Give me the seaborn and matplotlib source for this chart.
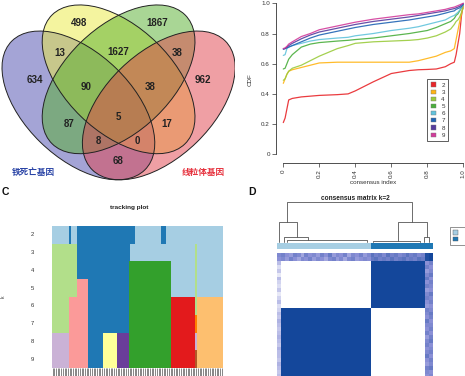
import matplotlib
matplotlib.use("Agg")
import matplotlib.pyplot as plt
import numpy as np
import pandas as pd
import seaborn as sns
from matplotlib.colors import ListedColormap, LinearSegmentedColormap
from matplotlib.patches import Ellipse, Patch

sns.set_theme(style="white")
plt.rcParams["font.family"] = ["Liberation Sans", "Noto Sans CJK SC", "DejaVu Sans"]

# ---------------- data ----------------
# A: four-set venn (1 = 铁死亡基因, 4 = 线粒体基因)
venn_names = ["铁死亡基因", "set2", "set3", "线粒体基因"]
venn_colors = ["#4b4baf", "#ebeb41", "#55af2d", "#e1414b"]
venn_regions = ["1", "2", "3", "4", "12", "23", "34", "123", "234",
                "1234", "13", "24", "134", "124", "14"]
venn_counts = [634, 498, 1867, 962, 13, 1627, 38, 90, 38, 5, 87, 17, 8, 0, 68]

# B: CDF curves for k = 2..9
cdf_k = [2, 3, 4, 5, 6, 7, 8, 9]
cdf_colors = ["#e8262a", "#ffb414", "#9acb3c", "#4aae3c", "#62c3dc",
              "#2064b4", "#553c9e", "#d23c9b"]
cdf_x = [0, 0.01, 0.02, 0.03, 0.05, 0.1, 0.15, 0.2, 0.3, 0.36, 0.4, 0.5, 0.6,
         0.7, 0.75, 0.8, 0.85, 0.9, 0.93, 0.95, 0.96, 0.97, 0.98, 0.99, 1.0]
cdf_k2 = [.21, .24, .30, .36, .37, .38, .385, .39, .395, .40, .42, .48, .535,
          .555, .56, .562, .565, .58, .60, .61, .66, .73, .80, .92, .99]
cdf_k3 = [.47, .50, .53, .55, .56, .575, .59, .605, .61, .61, .61, .61, .61,
          .61, .62, .635, .65, .675, .685, .70, .76, .82, .88, .93, .99]
cdf_k4 = [.49, .50, .53, .55, .57, .59, .62, .65, .70, .72, .735, .745, .75,
          .755, .76, .77, .785, .81, .83, .86, .88, .89, .91, .94, .97]
cdf_k5 = [.565, .57, .60, .63, .66, .71, .73, .74, .75, .755, .76, .77, .785,
          .80, .81, .82, .84, .865, .88, .90, .92, .93, .95, .97, .99]
cdf_k6 = [.655, .66, .70, .71, .72, .735, .75, .76, .77, .775, .785, .80, .82,
          .835, .845, .86, .875, .89, .91, .92, .93, .94, .955, .97, .99]
cdf_k7 = [.695, .70, .705, .71, .72, .745, .77, .79, .815, .83, .84, .86, .875,
          .89, .90, .91, .92, .935, .945, .95, .96, .965, .97, .98, .995]
cdf_k8 = [.70, .70, .71, .72, .735, .765, .79, .81, .835, .85, .86, .88, .895,
          .91, .92, .93, .94, .95, .96, .965, .97, .975, .98, .99, 1.0]
cdf_k9 = [.70, .705, .715, .73, .745, .78, .80, .825, .85, .865, .875, .895, .91,
          .925, .93, .94, .95, .96, .97, .975, .98, .985, .99, .995, 1.0]
cdf_values = [cdf_k2, cdf_k3, cdf_k4, cdf_k5, cdf_k6, cdf_k7, cdf_k8, cdf_k9]

# C: tracking plot, runs of (cluster colour index, n samples) per k
track_k = ["2", "3", "4", "5", "6", "7", "8", "9"]
track_k2 = [(0, 10), (1, 1), (0, 4), (1, 34), (0, 15), (1, 3), (0, 33)]
track_k3 = [(2, 15), (1, 31), (0, 38), (2, 1), (0, 15)]
track_k4 = [(2, 15), (1, 30), (3, 25), (0, 14), (2, 1), (0, 15)]
track_k5 = [(2, 15), (4, 6), (1, 24), (3, 25), (0, 14), (2, 1), (0, 15)]
track_k6 = [(2, 10), (4, 11), (1, 24), (3, 25), (5, 14), (2, 1), (6, 15)]
track_k7 = [(2, 10), (4, 11), (1, 24), (3, 25), (5, 14), (7, 1), (6, 15)]
track_k8 = [(8, 10), (4, 11), (1, 9), (10, 8), (9, 7), (3, 25), (5, 14), (8, 1), (6, 15)]
track_k9 = [(8, 10), (4, 11), (1, 9), (10, 8), (9, 7), (3, 25), (5, 14), (11, 1), (6, 15)]
track_runs = [track_k2, track_k3, track_k4, track_k5, track_k6, track_k7,
              track_k8, track_k9]

# D: consensus matrix k=2
cons_col_groups = [1, 23, 14, 2]       # edge col, cluster 1, cluster 2, edge cols
cons_row_groups = [2, 12, 26]          # edge rows, cluster-2 rows, cluster-1 rows
cons_col_cluster = [1, 1, 2, 2]
cons_block_c2rows = [0.0, 1.0]         # values vs cluster1 / cluster2 cols
cons_block_c1rows = [1.0, 0.0]
cons_top_a = [.55, .6, .5, .45, .6, .55, .4, .6, .5, .55, .45, .6, .5, .65, .45,
              .55, .5, .6, .4, .55, .5, .6, .45, .55, .7, .6, .65, .55, .7, .6,
              .65, .55, .6, .7, .6, .65, .55, .6, .95, 1.0]
cons_top_b = [.5, .55, .45, .6, .5, .4, .55, .5, .6, .45, .55, .5, .4, .55, .6,
              .45, .55, .4, .55, .6, .45, .5, .55, .5, .65, .7, .6, .65, .6, .7,
              .6, .65, .7, .6, .65, .6, .7, .65, .95, 1.0]
cons_left = [.3, .15, .25, .1, .3, .2, .15, .25, .1, .2, .3, .15, .2, .3, .25,
             .35, .3, .25, .3, .35, .3, .25, .35, .3, .3, .25, .35, .3, .25, .3,
             .35, .3, .25, .3, .35, .3, .3, .25]
cons_right_a = [.5, .6, .45, .55, .65, .5, .6, .45, .55, .6, .5, .45, .6, .55,
                .5, .65, .55, .5, .6, .45, .55, .6, .5, .55, .65, .5, .45, .6,
                .55, .5, .6, .55, .45, .6, .5, .55, .6, .5]
cons_right_b = [.6, .5, .55, .65, .5, .6, .55, .5, .65, .55, .6, .5, .55, .65,
                .6, .5, .55, .6, .5, .6, .65, .5, .55, .6, .5, .6, .55, .65,
                .5, .55, .6, .5, .65, .55, .6, .5, .55, .6]
# dendrogram merges: left x, right x, height, left child h, right child h
dend_left = [2.6, 0.5, 1.7, 2.5, 31.0, 24.7, 37.8]
dend_right = [34.8, 5.0, 8.0, 23.0, 38.5, 36.7, 39.0]
dend_height = [1.0, 0.5, 0.12, 0.04, 0.5, 0.03, 0.13]
dend_lchild = [0.5, 0.0, 0.0, 0.0, 0.03, 0.0, 0.0]
dend_rchild = [0.5, 0.12, 0.04, 0.0, 0.13, 0.0, 0.0]

# ---------------- figure ----------------
W, H = 465, 376
fig = plt.figure(figsize=(W / 100, H / 100), dpi=100)


def box(x0, y0, x1, y1):
    # pixel box (top-left origin) -> figure fraction rect
    return [x0 / W, 1 - y1 / H, (x1 - x0) / W, (y1 - y0) / H]


# ---- A: venn ----
axa = fig.add_axes(box(0, 0, 235, 185))
ell_center = [(0.35, 0.47), (0.5, 0.57), (0.5, 0.57), (0.65, 0.47)]
ell_angle = [-45, -45, 45, 45]
for c, ang, col in zip(ell_center, ell_angle, venn_colors):
    axa.add_patch(Ellipse(c, 0.70, 0.40, angle=ang, facecolor=col, alpha=0.5,
                          edgecolor="none"))
for c, ang in zip(ell_center, ell_angle):
    axa.add_patch(Ellipse(c, 0.70, 0.40, angle=ang, facecolor="none",
                          edgecolor="#222222", lw=0.7))
label_pos = {"1": (0.188, 0.568), "2": (0.352, 0.786), "3": (0.643, 0.786),
             "4": (0.815, 0.568), "12": (0.281, 0.671), "23": (0.498, 0.675),
             "34": (0.718, 0.671), "123": (0.378, 0.541), "234": (0.617, 0.541),
             "1234": (0.498, 0.426), "13": (0.315, 0.399), "24": (0.681, 0.399),
             "134": (0.423, 0.334), "124": (0.569, 0.334), "14": (0.498, 0.257)}
for reg, n in zip(venn_regions, venn_counts):
    x, y = label_pos[reg]
    axa.text(x, y, str(n), ha="center", va="center", fontsize=7,
             fontweight="bold", color="#222222")
axa.set_xlim(0.0575, 0.9344)
axa.set_ylim(0.165, 0.874)
axa.axis("off")
fig.text(12 / W, 1 - 173 / H, venn_names[0], color="#2a44a6", fontsize=6.2,
         fontweight="bold", va="center", family=["Noto Sans CJK SC"])
fig.text(182 / W, 1 - 173 / H, venn_names[3], color="#e6303c", fontsize=6.2,
         fontweight="bold", va="center", family=["Noto Sans CJK SC"])

# ---- B: CDF ----
axb = fig.add_axes(box(276.1, -2.7, 470.5, 160.3))
cdf_df = pd.DataFrame({
    "consensus index": np.tile(cdf_x, len(cdf_k)),
    "CDF": np.concatenate(cdf_values),
    "k": np.repeat([str(k) for k in cdf_k], len(cdf_x)),
})
sns.lineplot(data=cdf_df, x="consensus index", y="CDF", hue="k",
             palette=cdf_colors, legend=False, estimator=None, sort=False,
             lw=0.9, alpha=0.9, ax=axb)
axb.set_xlim(-0.04, 1.04)
axb.set_ylim(-0.04, 1.04)
sns.despine(ax=axb)
for s in ["left", "bottom"]:
    axb.spines[s].set_bounds(0, 1)
    axb.spines[s].set_linewidth(0.6)
    axb.spines[s].set_color("#333333")
axb.spines["bottom"].set_position(("outward", 2))
ticks = [0, 0.2, 0.4, 0.6, 0.8, 1.0]
tick_lbl = ["0", "0.2", "0.4", "0.6", "0.8", "1.0"]
axb.set_xticks(ticks)
axb.set_xticklabels(tick_lbl, rotation=90)
axb.set_yticks(ticks)
axb.set_yticklabels(tick_lbl)
axb.tick_params(axis="both", length=3, width=0.5, color="#333333",
                labelsize=4.5, labelcolor="#333333", pad=1.5,
                left=True, bottom=True)
axb.set_xlabel("")
axb.set_ylabel("")
fig.text(250 / W, 1 - 80 / H, "CDF", rotation=90, fontsize=4.5,
         color="#333333", ha="center", va="center")
fig.text(373 / W, 1 - 183 / H, "consensus index", fontsize=4.5,
         color="#333333", ha="center", va="center")
handles = [Patch(facecolor=c, edgecolor="#777777", lw=0.3) for c in cdf_colors]
leg_b = fig.legend(handles, [str(k) for k in cdf_k], loc="upper left",
                   bbox_to_anchor=(427.3 / W, 1 - 79 / H), fontsize=4.5,
                   handlelength=0.9, handleheight=0.65, labelspacing=0.3,
                   handletextpad=0.8, borderpad=0.55, borderaxespad=0,
                   frameon=True, fancybox=False, edgecolor="#444444",
                   framealpha=1, labelcolor="#333333")
leg_b.get_frame().set_linewidth(0.6)

# ---- C: tracking plot ----
axc = fig.add_axes(box(51.7, 225.7, 222.7, 368.3))
track = np.array([np.repeat([c for c, n in row], [n for c, n in row])
                  for row in track_runs])
paired = sns.color_palette("Paired", 12)
sns.heatmap(track, cmap=ListedColormap(paired), vmin=-0.5, vmax=11.5,
            cbar=False, xticklabels=False, yticklabels=track_k, ax=axc)
axc.set_xticks(np.arange(track.shape[1]) + 0.5)
axc.set_xticklabels([])
axc.tick_params(axis="x", bottom=True, length=7, width=0.45, color="#444444")
axc.tick_params(axis="y", length=0, pad=13, labelsize=4.2, labelcolor="#333333",
                rotation=0)
fig.text(128.8 / W, 1 - 208 / H, "tracking plot", fontsize=4.6,
         fontweight="bold", ha="center", va="center", color="#222222")
fig.text(3 / W, 1 - 297 / H, "k", fontsize=3.5, rotation=90,
         ha="center", va="center", color="#333333")
fig.text(2 / W, 1 - 192 / H, "C", fontsize=7.5, fontweight="bold",
         va="center", color="#111111")

# ---- D: consensus matrix ----
n = sum(cons_col_groups)
col_clu = np.repeat(cons_col_cluster, cons_col_groups)
cons = np.zeros((n, n))
r0 = cons_row_groups[0]
r1 = r0 + cons_row_groups[1]
cons[0] = cons_top_a
cons[1] = cons_top_b
cons[r0:r1] = np.array(cons_block_c2rows)[col_clu - 1]
cons[r1:] = np.array(cons_block_c1rows)[col_clu - 1]
cons[r0:, 0] = cons_left
cons[r0:, n - 2] = cons_right_a
cons[r0:, n - 1] = cons_right_b

axh = fig.add_axes(box(277.3, 253.3, 432.7, 408.7))
cons_cmap = LinearSegmentedColormap.from_list(
    "cons", ["#ffffff", "#8b90d6", "#14479b"])
sns.heatmap(cons, cmap=cons_cmap, vmin=0, vmax=1, cbar=False,
            xticklabels=False, yticklabels=False, ax=axh)

axs = fig.add_axes(box(277.3, 243.3, 432.7, 249.3))
sns.heatmap(col_clu[None, :], cmap=ListedColormap([paired[0], paired[1]]),
            vmin=0.5, vmax=2.5, cbar=False, xticklabels=False,
            yticklabels=False, ax=axs)

axd = fig.add_axes(box(277.3, 202.3, 432.7, 242))
for xl, xr, h, hl, hr in zip(dend_left, dend_right, dend_height,
                             dend_lchild, dend_rchild):
    axd.plot([xl, xl, xr, xr], [hl, h, h, hr], color="#555555", lw=0.6,
             clip_on=False)
axd.set_xlim(0, n)
axd.set_ylim(0, 1)
axd.axis("off")
fig.text(355 / W, 1 - 199 / H, "consensus matrix k=2", fontsize=4.7,
         fontweight="bold", ha="center", va="center", color="#222222")
fig.text(248 / W, 1 - 192 / H, "D", fontsize=7.5, fontweight="bold",
         va="center", color="#111111")
# cluster legend: only the swatches fall inside the picture
leg_d = fig.legend([Patch(facecolor=paired[0], edgecolor="#555555", lw=0.3),
                    Patch(facecolor=paired[1], edgecolor="#555555", lw=0.3)],
                   ["", ""], loc="upper left",
                   bbox_to_anchor=(450 / W, 1 - 227 / H), fontsize=4.5,
                   handlelength=0.8, handleheight=0.7, labelspacing=0.2,
                   handletextpad=4.0, borderpad=0.5, borderaxespad=0,
                   frameon=True, fancybox=False, edgecolor="#666666",
                   framealpha=1)
leg_d.get_frame().set_linewidth(0.5)

fig.savefig("out.png", dpi=100)
